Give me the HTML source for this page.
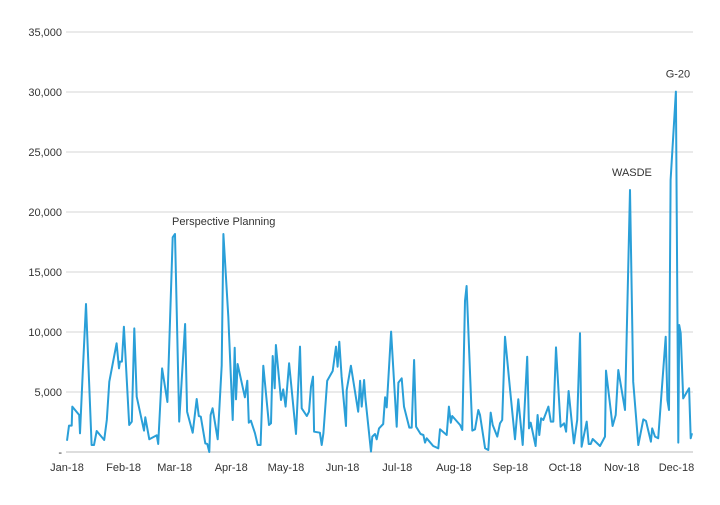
<!DOCTYPE html>
<html><head><meta charset="utf-8"><style>
html,body{margin:0;padding:0;background:#fff;}
svg text{font-family:"Liberation Sans",sans-serif;font-size:11px;fill:#333;}
</style></head><body>
<svg id="chart" width="720" height="500" xmlns="http://www.w3.org/2000/svg">
<g id="grid"></g>
<g id="yaxis"></g>
<g id="xaxis"></g>
<path id="line" fill="none" stroke="#2a9fd8" stroke-width="2" stroke-linejoin="round"/>
<g id="notes"></g>
</svg>
<script>
const days=[0,1.1,2.6,2.9,6.7,7.1,8.6,10.4,13.5,14.8,16.3,20.4,21.8,23.2,27.2,28.5,29.0,30.1,31.2,34.1,35.5,36.9,38.2,42.2,42.9,45.1,49.2,50.0,52.1,55.0,57.9,59.2,61.5,64.7,65.8,68.9,71.1,72.2,73.3,75.8,76.9,78.0,78.7,79.8,82.6,84.8,85.7,88.4,90.8,91.9,92.6,93.5,97.5,98.8,99.6,100.8,103.0,104.5,106.1,107.6,110.7,111.8,112.7,113.8,114.5,117.3,118.5,119.8,121.7,125.5,127.7,128.6,131.4,132.6,133.7,134.8,135.4,138.6,139.6,140.5,142.6,145.6,147.4,148.3,149.2,150.5,152.9,153.3,155.6,159.6,160.6,161.5,162.8,163.5,166.6,167.3,168.8,169.7,171.0,173.3,174.3,175.2,177.6,180.7,181.6,183.4,184.7,187.6,188.9,190.2,191.3,193.8,195.3,196.2,197.1,200.7,203.5,204.4,208.1,209.3,210.3,211.1,215.4,216.6,218.1,219.0,222.1,223.6,225.4,226.3,229.1,230.9,232.2,233.3,235.8,237.3,238.5,240.0,242.8,245.5,247.3,249.7,252.2,253.2,254.1,256.8,257.9,258.8,259.8,261.0,263.8,265.1,266.5,268.0,270.5,272.4,273.5,274.9,277.8,279.6,281.1,282.0,284.8,285.9,287.0,288.1,292.1,294.8,295.4,299.0,300.7,302.1,305.8,308.5,310.3,313.1,315.8,317.3,320.0,320.7,322.2,324.0,328.1,329.0,329.9,330.8,333.7,335.0,335.5,336.3,337.7,340.9,341.8,342.5];
const values=[940,2200,2200,3780,3080,1560,6560,12330,580,580,1750,1000,2670,5860,9060,6970,7530,7530,10440,2250,2530,10300,4610,1780,2890,1060,1390,670,6970,4170,17890,18170,2530,10670,3360,1610,4420,3000,2940,720,670,0,3080,3640,1060,7220,18170,11280,2670,8690,4390,7330,4560,5940,2440,2610,1560,580,580,7190,2250,2390,8000,5310,8920,4330,5220,3780,7390,1500,8780,3640,3000,3360,5440,6280,1690,1610,580,1560,5940,6750,8780,7110,9190,6280,2170,5170,7190,3360,5940,3780,6000,4470,30,1280,1500,1060,1970,2330,4560,3720,10030,2110,5780,6140,3780,2030,2030,7670,2110,1500,1420,780,1140,500,310,1890,1420,3780,2440,3000,2250,1830,12610,13830,1780,1890,3500,3080,310,170,3280,2250,1280,2390,2670,9610,5170,1060,4390,580,7940,1970,2440,500,3080,1420,2810,2670,3780,2530,2530,8720,2110,2390,1690,5080,720,2670,9890,440,2530,670,670,1080,500,1280,6780,2170,3080,6830,3500,21830,5860,580,2720,2580,860,1970,1280,1140,9610,4330,3500,22670,30030,780,10580,9890,4470,5310,1140,1560];
const monthLabels=["Jan-18","Feb-18","Mar-18","Apr-18","May-18","Jun-18","Jul-18","Aug-18","Sep-18","Oct-18","Nov-18","Dec-18"];
const monthStarts=[0,31,59,90,120,151,181,212,243,273,304,334];
const yTicks=[0,5000,10000,15000,20000,25000,30000,35000];
const yTickLabels=["-","5,000","10,000","15,000","20,000","25,000","30,000","35,000"];
const noteText=["Perspective Planning","WASDE","G-20"];
const noteDay=[59.2,308.5,333.7];
const noteVal=[18170,21830,30030];

const NS="http://www.w3.org/2000/svg";
const X=d=>67+d*1.8248;
const Y=v=>452-v*0.012;
const grid=document.getElementById('grid'),ya=document.getElementById('yaxis'),xa=document.getElementById('xaxis'),notes=document.getElementById('notes');
yTicks.forEach((t,i)=>{
  const l=document.createElementNS(NS,'line');
  
  
  l.setAttribute('x1',66);l.setAttribute('x2',693);l.setAttribute('y1',Y(t));l.setAttribute('y2',Y(t));
  l.setAttribute('stroke',i==0?'#bbb':'#d4d4d4');l.setAttribute('stroke-width',1);
  grid.appendChild(l);
  const tx=document.createElementNS(NS,'text');
  
  
  tx.setAttribute('x',62);tx.setAttribute('y',Y(t)+4);tx.setAttribute('text-anchor','end');
  tx.textContent=yTickLabels[i];ya.appendChild(tx);
});
monthLabels.forEach((m,i)=>{
  const tx=document.createElementNS(NS,'text');
  
  
  tx.setAttribute('x',X(monthStarts[i]));tx.setAttribute('y',471);tx.setAttribute('text-anchor','middle');
  tx.textContent=m;xa.appendChild(tx);
});
document.getElementById('line').setAttribute('d',days.map((d,i)=>(i?'L':'M')+X(d).toFixed(1)+','+Y(values[i]).toFixed(1)).join(''));
noteText.forEach((n,i)=>{
  const tx=document.createElementNS(NS,'text');
  
  
  const anchor=i==0?'start':'middle';
  tx.setAttribute('x',i==0?X(noteDay[i])-3:X(noteDay[i])+2);
  tx.setAttribute('y',Y(noteVal[i])-(i==0?9:14));
  tx.setAttribute('text-anchor',anchor);
  tx.textContent=n;notes.appendChild(tx);
});
</script>
</body></html>
